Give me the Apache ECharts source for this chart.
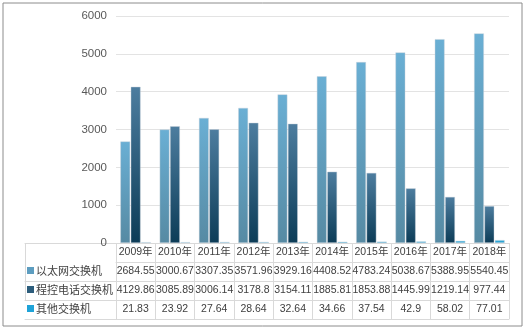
<!DOCTYPE html>
<html><head><meta charset="utf-8">
<script src="https://cdn.jsdelivr.net/npm/echarts@6/dist/echarts.min.js"></script>
<style>html,body{margin:0;padding:0;background:#fff}#c{width:527px;height:331px}</style>
</head><body><div id="c"></div>
<script>
const years = ['2009年','2010年','2011年','2012年','2013年','2014年','2015年','2016年','2017年','2018年'];
const seriesNames = ['以太网交换机','程控电话交换机','其他交换机'];
const ethernet = [2684.55,3000.67,3307.35,3571.96,3929.16,4408.52,4783.24,5038.67,5388.95,5540.45];
const programmed = [4129.86,3085.89,3006.14,3178.8,3154.11,1885.81,1853.88,1445.99,1219.14,977.44];
const others = [21.83,23.92,27.64,28.64,32.64,34.66,37.54,42.9,58.02,77.01];
const yTicks = {min:0,max:6000,interval:1000};

const G = echarts.graphic;
const grads = [
  new G.LinearGradient(0,0,0,1,[{offset:0,color:'#6aafd4'},{offset:1,color:'#568aa3'}]),
  new G.LinearGradient(0,0,0,1,[{offset:0,color:'#4d7d9f'},{offset:1,color:'#0c3c57'}]),
  new G.LinearGradient(0,0,0,1,[{offset:0,color:'#3bb3e2'},{offset:1,color:'#1a96c8'}])
];
const keyColors = ['#5d9dc0','#2c5d7c','#1fa3d8'];
const lineC = '#d9d9d9';
const txt = '#404040';
const numFont = "'Liberation Sans','Noto Sans CJK SC',sans-serif";
const cjkFont = "'Noto Sans CJK SC',sans-serif";
const rowH = 19;
const valueRows = [ethernet, programmed, others];

const xAxes = [];
xAxes.push({type:'category',gridIndex:0,data:years,position:'bottom',offset:0,
  axisLine:{show:true,lineStyle:{color:lineC}},
  axisTick:{show:true,length:rowH*4,interval:0,lineStyle:{color:lineC}},
  axisLabel:{interval:0,margin:4,fontSize:10.5,color:txt,fontFamily:numFont}});
valueRows.forEach((arr,i)=>{
  xAxes.push({type:'category',gridIndex:0,data:arr.map(String),position:'bottom',offset:rowH*(i+1),
    axisLine:{show:true,lineStyle:{color:lineC}},axisTick:{show:false},
    axisLabel:{interval:0,margin:4,fontSize:10.5,color:txt,fontFamily:numFont}});
});
xAxes.push({type:'category',gridIndex:0,data:years,position:'bottom',offset:rowH*4,
  axisLine:{show:true,lineStyle:{color:lineC}},axisTick:{show:false},axisLabel:{show:false}});
seriesNames.forEach((n,i)=>{
  xAxes.push({type:'category',gridIndex:1,boundaryGap:false,data:[n,''],position:'bottom',offset:rowH*(i+1),
    axisLine:{show:true,lineStyle:{color:lineC}},
    axisTick:i===0?{show:true,length:rowH*3,interval:0,lineStyle:{color:lineC}}:{show:false},
    axisLabel:{interval:0,margin:3,align:'left',padding:[0,0,0,2],color:txt,fontFamily:cjkFont,fontSize:11,
      formatter:v=>v?('{k|}{t|'+v+'}'):'',
      rich:{k:{width:7,height:7,backgroundColor:keyColors[i],verticalAlign:'middle'},
            t:{fontSize:11,color:txt,fontFamily:cjkFont,padding:[0,0,0,2]}}}});
});
xAxes.push({type:'category',gridIndex:1,boundaryGap:false,data:['',''],position:'bottom',offset:rowH*4,
  axisLine:{show:true,lineStyle:{color:lineC}},axisTick:{show:false},axisLabel:{show:false}});

const option = {
  animation:false,
  graphic:[{type:'rect',shape:{x:3,y:3,width:519,height:323},style:{fill:'none',stroke:'#8c8c8c',lineWidth:1}}],
  grid:[{left:116,right:18,top:16,bottom:88},{left:25,width:91,top:16,bottom:88}],
  xAxis:xAxes,
  yAxis:[{type:'value',gridIndex:0,min:yTicks.min,max:yTicks.max,interval:yTicks.interval,
    axisLine:{show:false},axisTick:{show:false},
    axisLabel:{color:'#595959',fontSize:11.5,margin:9,fontFamily:"'Liberation Sans','Noto Sans',sans-serif",formatter:v=>String(v)},
    splitLine:{lineStyle:{color:'#e3e3e3'}}},
    {type:'value',gridIndex:1,show:false}],
  series:[ethernet,programmed,others].map((d,i)=>({
    type:'bar',name:seriesNames[i],xAxisIndex:0,yAxisIndex:0,data:d,
    barGap:'5%',barCategoryGap:'22%',
    itemStyle:{color:grads[i],borderColor:'rgba(200,210,220,0.7)',borderWidth:0.6}
  }))
};
const chart = echarts.init(document.getElementById('c'),null,{renderer:'canvas'});
chart.setOption(option);
</script></body></html>
